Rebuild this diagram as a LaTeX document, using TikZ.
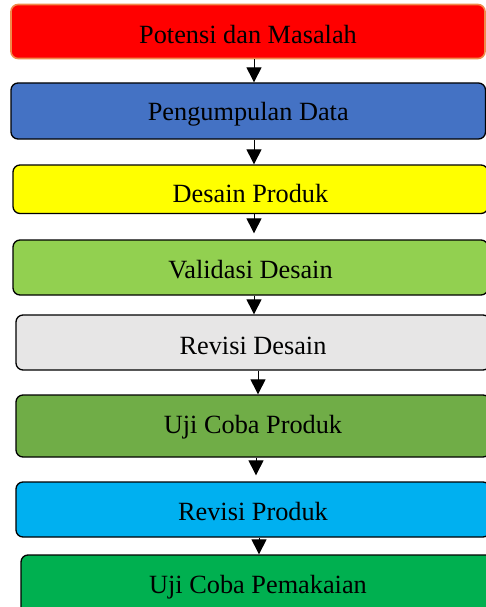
\documentclass[tikz,border=0pt]{standalone}
\usepackage{fontspec}
\setmainfont{Liberation Serif}
\usetikzlibrary{arrows.meta}
\definecolor{cRed}{HTML}{FF0000}
\definecolor{cOrange}{HTML}{F08A4B}
\definecolor{cBlue}{HTML}{4472C4}
\definecolor{cYellow}{HTML}{FFFF00}
\definecolor{cLgreen}{HTML}{92D050}
\definecolor{cGray}{HTML}{E7E6E6}
\definecolor{cMgreen}{HTML}{70AD47}
\definecolor{cCyan}{HTML}{00B0F0}
\definecolor{cDgreen}{HTML}{00B050}
\tikzset{
  stagebox/.style={draw=black, line width=1.3pt, rounded corners=7pt, inner sep=0pt,
    text depth=0pt, font=\fontsize{26.3}{30}\selectfont},
  txt/.style={inner sep=0pt, font=\fontsize{26.3}{30}\selectfont},
  arr/.style={line width=1pt, -{Triangle[width=15pt,length=15pt]}}
}
\begin{document}
\begin{tikzpicture}[x=1pt,y=-1pt]
\useasboundingbox (0,0) rectangle (486,607);
\node[stagebox, draw=cOrange, line width=1.6pt, fill=cRed, minimum width=474pt, minimum height=54pt, text height=25pt] (b1) at (248,31.5) {Potensi dan Masalah};
\node[stagebox, fill=cBlue, minimum width=474.5pt, minimum height=56pt, text height=20pt] (b2) at (248.25,111) {Pengumpulan Data};
\node[stagebox, fill=cYellow, minimum width=475pt, minimum height=48.5pt] (b3) at (250.5,189.25) {};
\begin{scope}
\clip (0,165) rectangle (486,203);
\node[txt, anchor=base] (t3) at (250.5,202) {Desain Produk};
\end{scope}
\node[stagebox, fill=cLgreen, minimum width=475pt, minimum height=55pt, text height=21pt] (b4) at (250.5,267.5) {Validasi Desain};
\node[stagebox, fill=cGray, minimum width=474pt, minimum height=55pt, text height=23pt] (b5) at (253,342.5) {Revisi Desain};
\node[stagebox, fill=cMgreen, minimum width=474pt, minimum height=62pt, text height=14pt] (b6) at (253,426) {Uji Coba Produk};
\node[stagebox, fill=cCyan, minimum width=474pt, minimum height=55pt, text height=22pt] (b7) at (253,509.5) {Revisi Produk};
\node[stagebox, fill=cDgreen, minimum width=474pt, minimum height=65pt, text height=11pt] (b8) at (258,587.5) {Uji Coba Pemakaian};
\draw[arr] ([xshift=6pt]b1.south) -- ([xshift=5.75pt]b2.north);
\draw[arr] ([xshift=5.75pt]b2.south) -- ([xshift=3.5pt]b3.north);
\draw[arr, shorten >=6pt] ([xshift=3.5pt]b3.south) -- ([xshift=3.5pt]b4.north);
\draw[arr] ([xshift=3.5pt]b4.south) -- ([xshift=1pt]b5.north);
\draw[arr] ([xshift=5pt]b5.south) -- ([xshift=5pt]b6.north);
\draw[arr, shorten >=6pt] ([xshift=3pt]b6.south) -- ([xshift=3pt]b7.north);
\draw[arr] ([xshift=6pt]b7.south) -- ([xshift=1pt]b8.north);
\end{tikzpicture}
\end{document}
